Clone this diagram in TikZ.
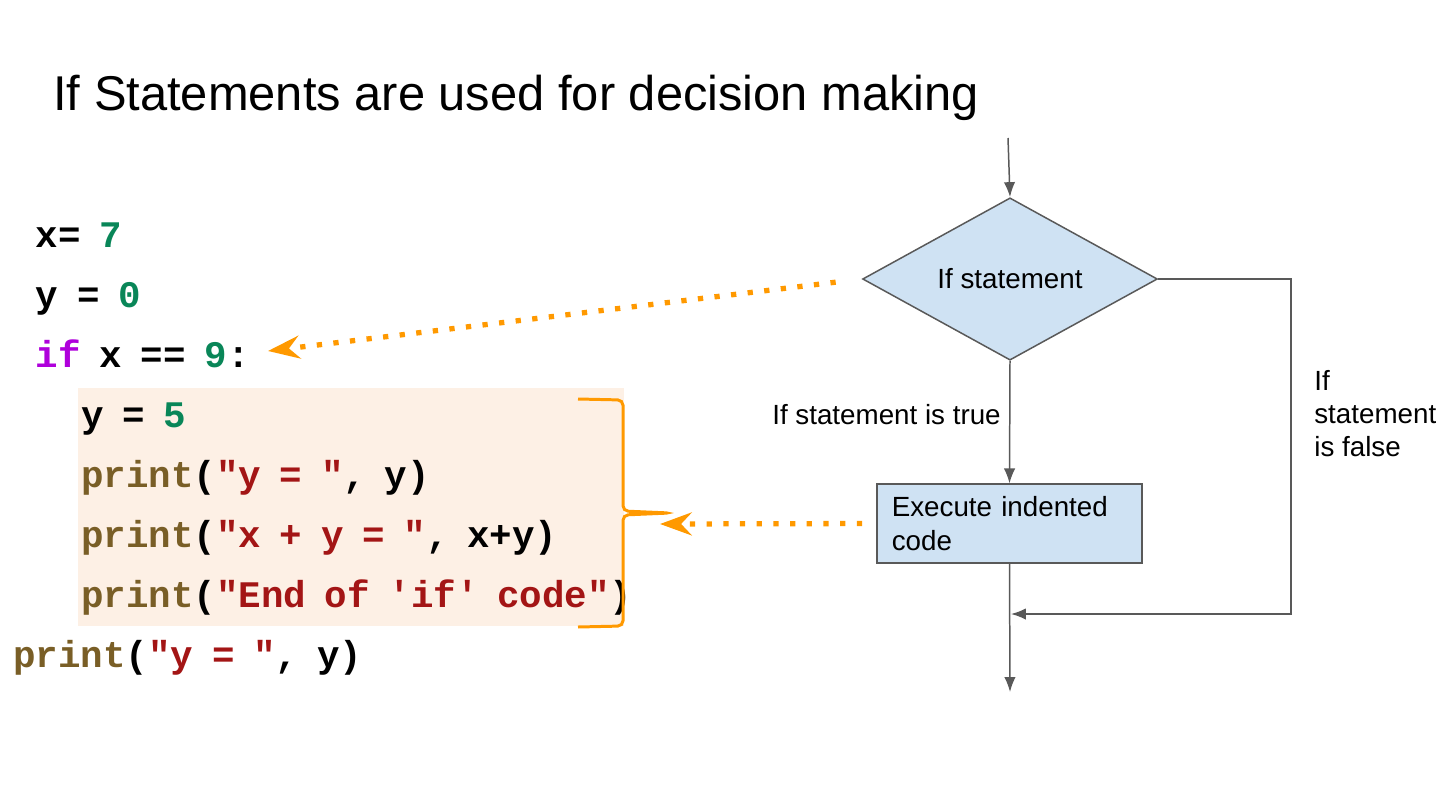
\documentclass[tikz,border=0pt]{standalone}
\usepackage{fontspec}
\setmainfont{Liberation Sans}
\setmonofont{Liberation Mono}[WordSpace = 0.83]
\usetikzlibrary{positioning, shapes.geometric, arrows.meta}
\tikzstyle{pixelGrid} = [x = 0.02cm, y = -0.02cm]
\definecolor{lineGray}{RGB}{89,89,89}
\definecolor{boxBlue}{RGB}{207,226,243}
\definecolor{braceOrange}{RGB}{255,153,0}
\definecolor{codeBack}{RGB}{253,240,229}
\definecolor{codeGreen}{RGB}{9,134,88}
\definecolor{codePurple}{RGB}{175,0,219}
\definecolor{codeBrown}{RGB}{121,94,38}
\definecolor{codeRed}{RGB}{163,21,21}
\tikzstyle{titleText} = [anchor = base west, inner sep = 0, font = \fontsize{27.8}{33}\selectfont]
\tikzstyle{codeText} = [anchor = base west, inner sep = 0, font = \ttfamily\bfseries\fontsize{21.35}{24}\selectfont]
\tikzstyle{flowText} = [font = \fontsize{15.8}{18.7}\selectfont]
\tikzstyle{decisionStyle} = [diamond, draw = lineGray, fill = boxBlue, line width = 0.85pt, aspect = 1.8, inner sep = 0, minimum width = 167.8pt, minimum height = 92.4pt, flowText]
\tikzstyle{processStyle} = [rectangle, draw = lineGray, fill = boxBlue, line width = 0.85pt, minimum height = 44.8pt, text width = 134pt, inner xsep = 8.5pt, align = left, font = \fontsize{15.8}{19.3}\selectfont]
\tikzstyle{flowLine} = [draw = lineGray, line width = 0.85pt]
\tikzstyle{flowArrow} = [flowLine, -{Latex[length = 8.5pt, width = 6.5pt]}]
\tikzstyle{orangeDots} = [draw = braceOrange, line width = 3pt, dash pattern = on 3pt off 6.5pt, -{Stealth[length = 18pt, width = 13pt, inset = 6pt]}]
\tikzstyle{braceLine} = [draw = braceOrange, line width = 1.7pt, rounded corners = 3pt]
\newcommand{\codeNum}[1]{\textcolor{codeGreen}{#1}}
\newcommand{\codeStr}[1]{\textcolor{codeRed}{#1}}
\newcommand{\codeFun}[1]{\textcolor{codeBrown}{#1}}
\newcommand{\codeKey}[1]{\textcolor{codePurple}{#1}}
\newcommand{\codeLine}[4]{\node [codeText] (#1) at (13 + #2 * 22.6, 247 + #3 * 60) {#4};}

\begin{document}
\begin{tikzpicture}[pixelGrid]
  \useasboundingbox (0,0) rectangle (1454,798);
  \node [titleText] (title) at (53,110) {If Statements are used for decision making};

  % code block
  \fill [codeBack] (78,388) rectangle (624,626);
  \codeLine{lineX}{1}{0}{x= \codeNum{7}}
  \codeLine{lineY}{1}{1}{y = \codeNum{0}}
  \codeLine{lineIf}{1}{2}{\codeKey{if} x == \codeNum{9}:}
  \codeLine{lineSet}{3}{3}{y = \codeNum{5}}
  \codeLine{lineOne}{3}{4}{\codeFun{print}(\codeStr{"y = "}, y)}
  \codeLine{lineTwo}{3}{5}{\codeFun{print}(\codeStr{"x + y = "}, x+y)}
  \codeLine{lineThree}{3}{6}{\codeFun{print}(\codeStr{"End of 'if' code"})}
  \codeLine{lineLast}{0}{7}{\codeFun{print}(\codeStr{"y = "}, y)}
  \draw [braceLine] (578,399) -- (623,400) -- (623,511) -- (670,513) -- (623,515) -- (623,626) -- (578,627);

  % flowchart
  \node [decisionStyle] (ifDiamond) at (1010,279) {If statement};
  \node [processStyle] (execBox) at (1009.5,523.5) {Execute indented code};
  \node [flowText, anchor = base] (trueLabel) at (886.5,424) {If statement is true};
  \node [flowText, anchor = base west, align = left, inner sep = 0] (falseLabel) at (1314,456) {If\\statement\\is false};
  \coordinate (flowStart) at (1008,138);
  \coordinate (flowEnd) at (1010,692);
  \coordinate (falseCorner) at (1291,614);
  \coordinate (mergePoint) at (1011,614);
  \draw [flowArrow] (flowStart) -- (ifDiamond.north);
  \draw [flowArrow] (ifDiamond.south) -- (execBox.north);
  \draw [flowArrow] (execBox.south) -- (flowEnd);
  \draw [flowArrow] (ifDiamond.east) -| (falseCorner) -- (mergePoint);

  % pointers
  \coordinate (ifTip) at (268,351);
  \coordinate (braceTip) at (660,524);
  \draw [orangeDots, shorten < = 15pt] (ifDiamond.west) -- (ifTip);
  \draw [orangeDots, shorten < = 8pt] (execBox.west) -- (braceTip);
\end{tikzpicture}
\end{document}
